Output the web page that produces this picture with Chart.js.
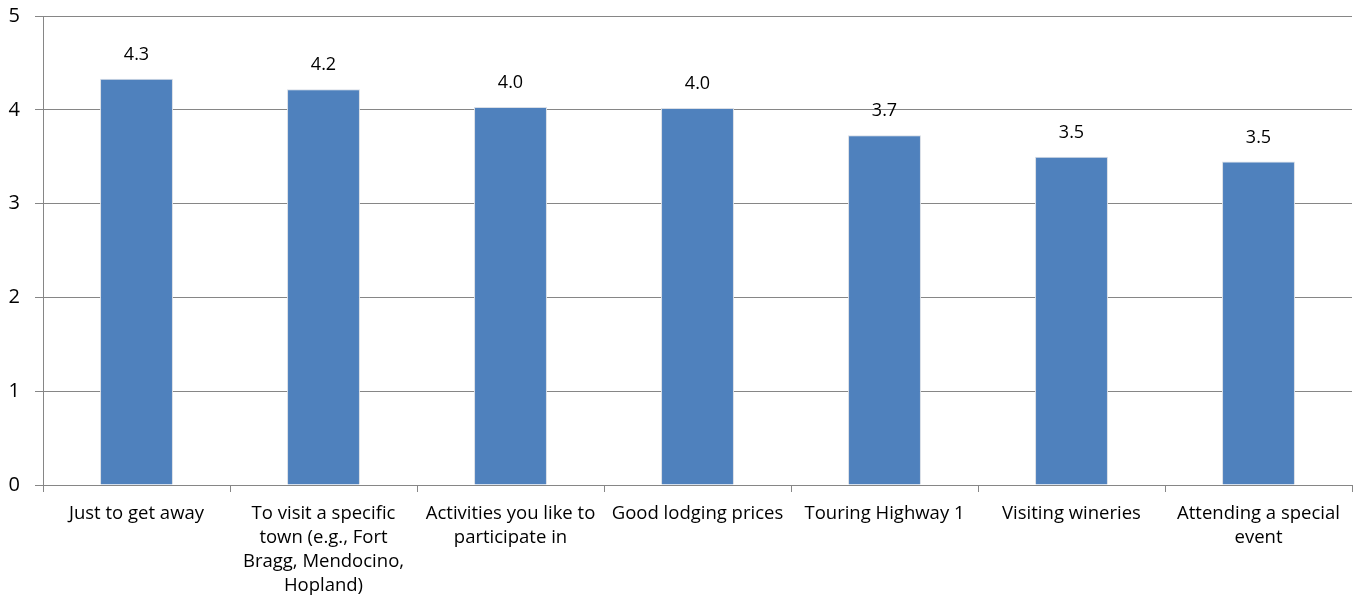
<!DOCTYPE html>
<html>
<head>
<meta charset="utf-8">
<script src="https://cdn.jsdelivr.net/npm/chart.js@4/dist/chart.umd.min.js"></script>
<style>
  html, body { margin: 0; padding: 0; background: #fff; }
  #wrap { width: 1361px; height: 603px; }
</style>
</head>
<body>
<div id="wrap"><canvas id="c" width="1361" height="603"></canvas></div>
<script>
// Reasons for visiting (average rating, 0–5 scale)
const categories = [
  ["Just to get away"],
  ["To visit a specific", "town (e.g., Fort", "Bragg, Mendocino,", "Hopland)"],
  ["Activities you like to", "participate in"],
  ["Good lodging prices"],
  ["Touring Highway 1"],
  ["Visiting wineries"],
  ["Attending a special", "event"]
];
const ratings = [4.33, 4.22, 4.03, 4.02, 3.73, 3.50, 3.45];
const yTicks = [0, 1, 2, 3, 4, 5];

const FONT = '"Open Sans", Lato, sans-serif';

// Writes each bar's rating above it, one decimal place
const valueLabels = {
  id: 'valueLabels',
  afterDatasetsDraw(chart) {
    const ctx = chart.ctx;
    const meta = chart.getDatasetMeta(0);
    ctx.save();
    ctx.font = '18px ' + FONT;
    ctx.fillStyle = '#000';
    ctx.textAlign = 'center';
    ctx.textBaseline = 'middle';
    meta.data.forEach((bar, i) => {
      ctx.fillText(ratings[i].toFixed(1), bar.x, bar.y - 24);
    });
    ctx.restore();
  }
};

new Chart(document.getElementById('c'), {
  type: 'bar',
  data: {
    labels: categories,
    datasets: [{
      data: ratings,
      backgroundColor: '#4F81BD',
      borderColor: '#D9DEE6',
      borderWidth: 1,
      categoryPercentage: 1.0,
      barPercentage: 0.39
    }]
  },
  options: {
    responsive: false,
    animation: false,
    devicePixelRatio: 1,
    layout: { padding: { top: 16, right: 9, left: 0, bottom: 0 } },
    plugins: {
      legend: { display: false },
      tooltip: { enabled: false }
    },
    scales: {
      x: {
        offset: true,
        grid: {
          offset: true,
          drawOnChartArea: false,
          drawTicks: true,
          tickLength: 7,
          color: '#868686'
        },
        border: { color: '#868686', width: 1 },
        ticks: {
          color: '#000',
          maxRotation: 0,
          autoSkip: false,
          padding: 10,
          font: { family: FONT, size: 18.5, lineHeight: 1.3 }
        },
        afterFit(scale) {
          scale.height = 118;
          scale.paddingLeft = 0;
          scale.paddingRight = 0;
        }
      },
      y: {
        min: 0,
        max: 5,
        afterBuildTicks(scale) { scale.ticks = yTicks.map(v => ({ value: v })); },
        grid: {
          color: '#868686',
          tickLength: 8,
          drawTicks: true
        },
        border: { color: '#868686', width: 1 },
        ticks: {
          color: '#000',
          padding: 15,
          font: { family: FONT, size: 20 }
        },
        afterFit(scale) {
          scale.width = 43;
          scale.paddingTop = 0;
          scale.paddingBottom = 0;
        }
      }
    }
  },
  plugins: [valueLabels]
});
</script>
</body>
</html>
